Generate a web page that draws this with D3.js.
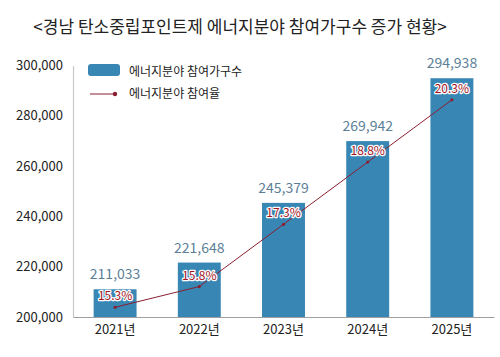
<!DOCTYPE html>
<html><head><meta charset="utf-8">
<script src="https://cdn.jsdelivr.net/npm/d3@7"></script>
<style>
body{margin:0;background:#fff;}
svg{display:block;font-family:"Noto Sans CJK KR","Noto Sans",sans-serif;}
</style></head>
<body>
<script>
const title = "<경남 탄소중립포인트제 에너지분야 참여가구수 증가 현황>";
const years = ["2021년","2022년","2023년","2024년","2025년"];
const households = [211033, 221648, 245379, 269942, 294938];
const rates = [15.3, 15.8, 17.3, 18.8, 20.3];
const yTicks = [200000, 220000, 240000, 260000, 280000, 300000];
const legendLabels = ["에너지분야 참여가구수", "에너지분야 참여율"];

(function(){
const W = 500, H = 357;
const pL = 73, pR = 494, pT = 65.5, pB = 317;
const barColor = "#3886b4", lineColor = "#8a1f30", valColor = "#5c7f97";
const font = "'Noto Sans CJK KR','Noto Sans',sans-serif";

const svg = d3.select("body").append("svg").attr("width", W).attr("height", H);

svg.append("text").attr("x", 240).attr("y", 33).attr("text-anchor", "middle")
  .attr("font-size", 17).attr("fill", "#222").text(title);

const x = d3.scaleBand().domain(years).range([pL, pR]).paddingInner(0.49).paddingOuter(0.245);
const y = d3.scaleLinear().domain([200000, 300000]).range([pB, pT]);
const y2 = d3.scaleLinear().domain([15.066, 21.127]).range([pB, pT]);

const yAxis = svg.append("g").attr("transform", `translate(${pL},0)`)
  .call(d3.axisLeft(y).tickValues(yTicks).tickSize(0).tickPadding(10).tickFormat(d3.format(",")));
yAxis.select(".domain").attr("stroke", "#c8c8c8").attr("stroke-width", 1.2);
yAxis.selectAll("text").attr("font-size", 13).attr("fill", "#222").attr("font-family", font);

svg.selectAll("rect.bar").data(households).enter().append("rect")
  .attr("class", "bar")
  .attr("x", (d, i) => x(years[i]))
  .attr("width", x.bandwidth())
  .attr("y", d => y(d))
  .attr("height", d => pB - y(d))
  .attr("fill", barColor);

const xAxis = svg.append("g").attr("transform", `translate(0,${pB})`)
  .call(d3.axisBottom(x).tickSize(0).tickPadding(8));
xAxis.select(".domain").attr("stroke", "#a0a0a0").attr("stroke-width", 1.2);
xAxis.selectAll("text").attr("font-size", 13).attr("fill", "#222").attr("font-family", font);

svg.selectAll("text.val").data(households).enter().append("text")
  .attr("class", "val")
  .attr("x", (d, i) => x(years[i]) + x.bandwidth() / 2)
  .attr("y", d => y(d) - 10)
  .attr("text-anchor", "middle").attr("font-size", 14).attr("fill", valColor)
  .text(d => d3.format(",")(d));

const cx = i => x(years[i]) + x.bandwidth() / 2;
svg.append("path").datum(rates)
  .attr("d", d3.line().x((d, i) => cx(i)).y(d => y2(d)))
  .attr("fill", "none").attr("stroke", lineColor).attr("stroke-width", 1);
svg.selectAll("circle.pt").data(rates).enter().append("circle")
  .attr("cx", (d, i) => cx(i)).attr("cy", d => y2(d)).attr("r", 1.6).attr("fill", lineColor);

svg.selectAll("text.rate").data(rates).enter().append("text")
  .attr("class", "rate")
  .attr("x", (d, i) => cx(i))
  .attr("y", d => y2(d) - 7)
  .attr("text-anchor", "middle").attr("font-size", 12)
  .attr("fill", "#a3141f").attr("stroke", "#fff").attr("stroke-width", 2.5)
  .attr("paint-order", "stroke").attr("stroke-linejoin", "round")
  .text(d => d.toFixed(1) + "%");

const lg = svg.append("g");
lg.append("rect").attr("x", 88).attr("y", 64).attr("width", 32).attr("height", 12).attr("rx", 3)
  .attr("fill", barColor);
lg.append("text").attr("x", 129).attr("y", 76).attr("font-size", 12).attr("fill", "#222").text(legendLabels[0]);
lg.append("line").attr("x1", 90).attr("x2", 115).attr("y1", 94).attr("y2", 94)
  .attr("stroke", lineColor).attr("stroke-width", 1);
lg.append("circle").attr("cx", 115).attr("cy", 94).attr("r", 2.2).attr("fill", lineColor);
lg.append("text").attr("x", 129).attr("y", 98).attr("font-size", 12).attr("fill", "#222").text(legendLabels[1]);
})();
</script>
</body></html>
